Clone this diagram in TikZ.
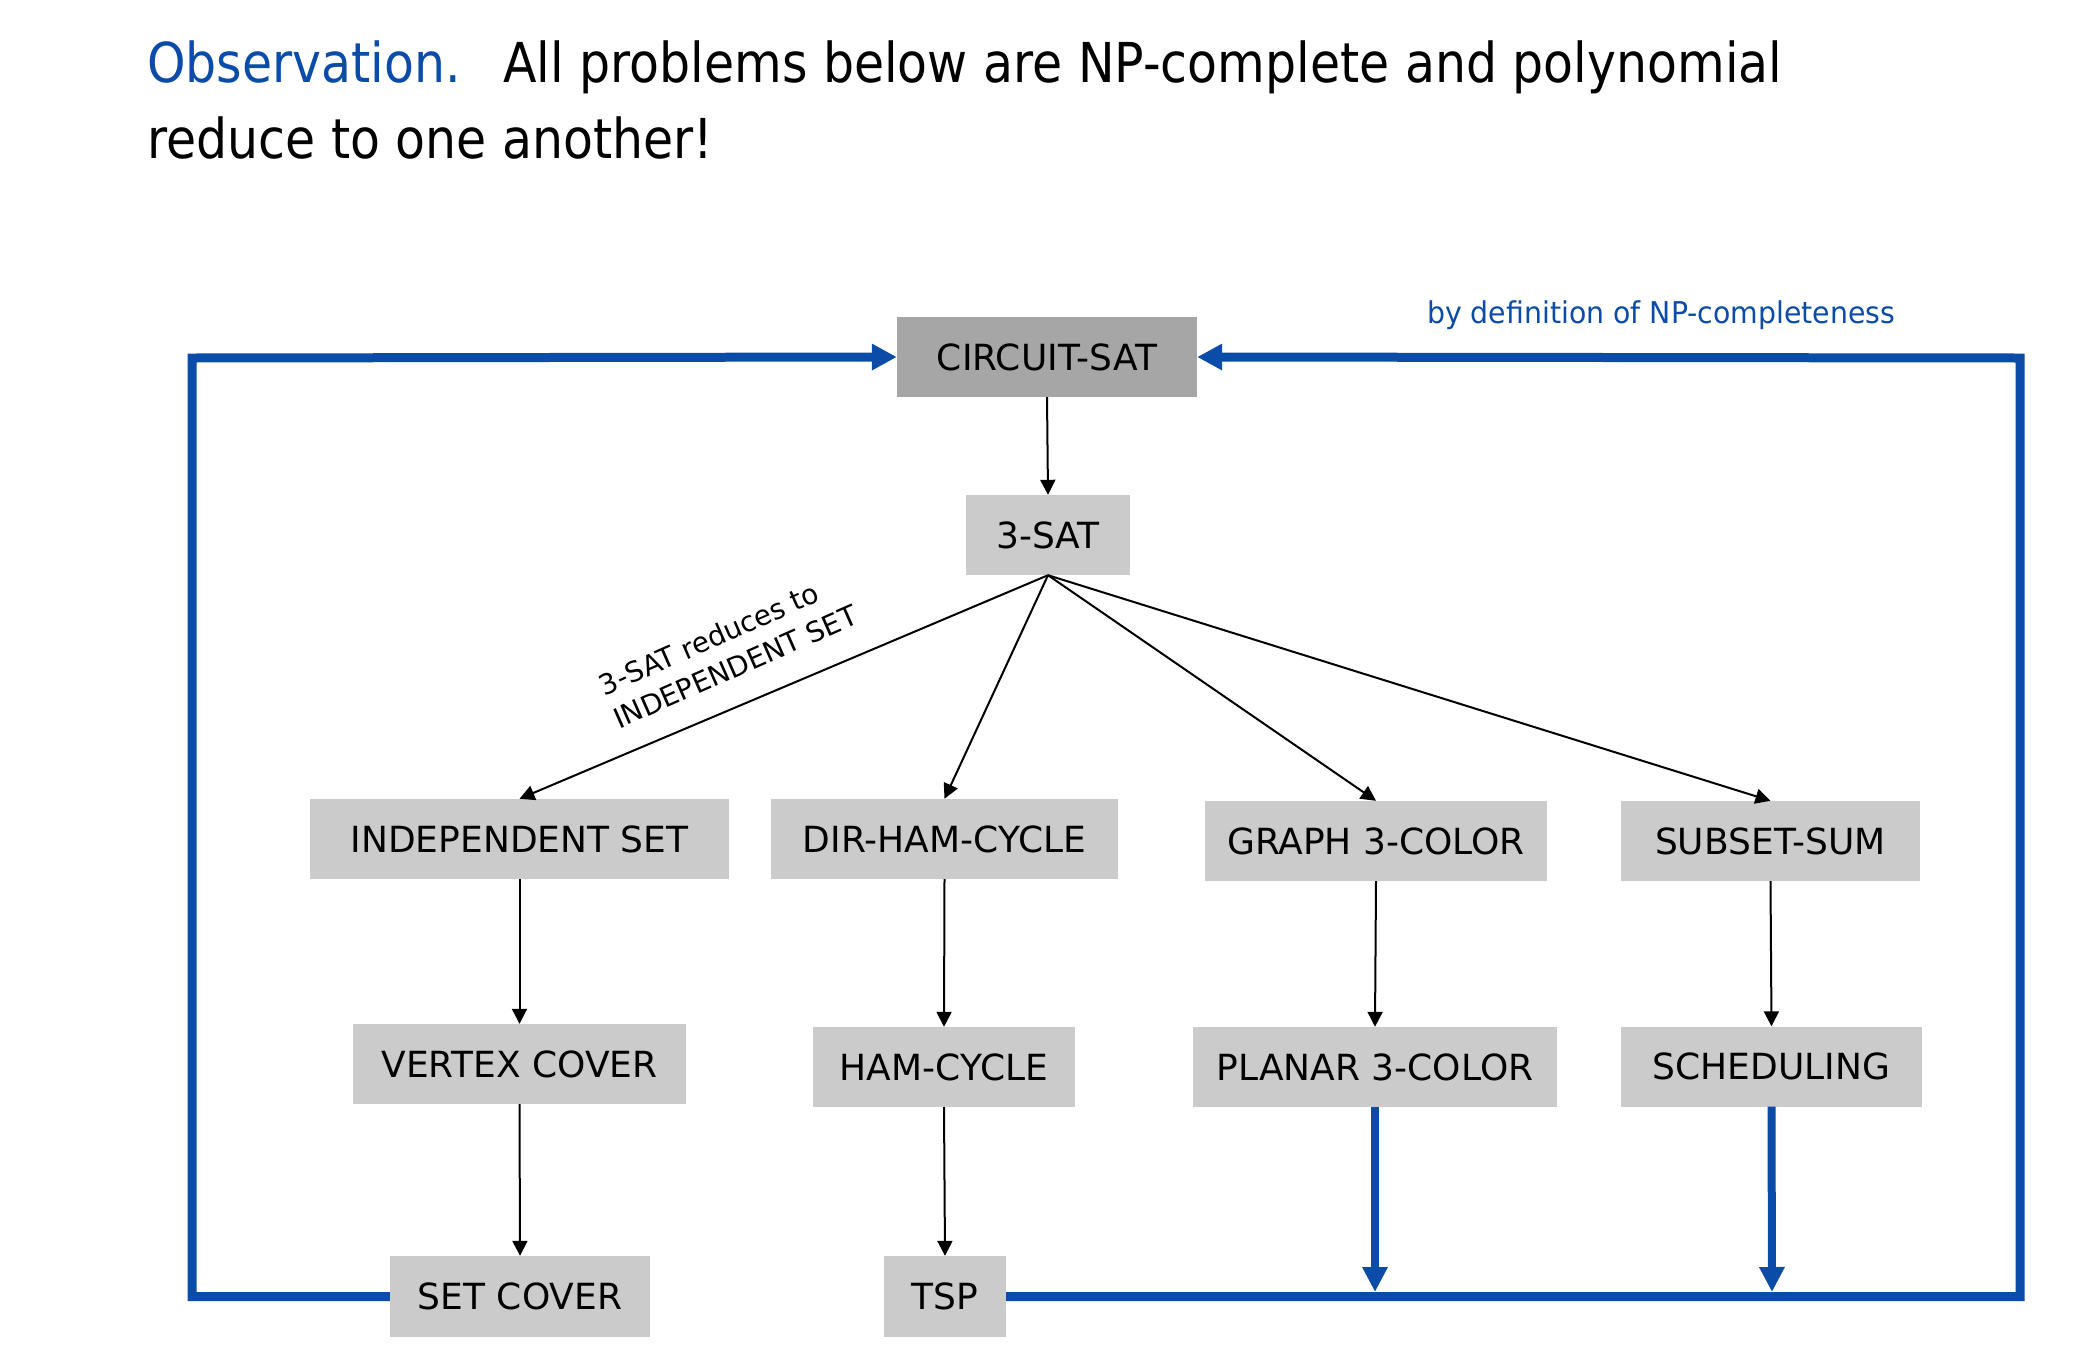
\documentclass[tikz,border=0pt]{standalone}
\usepackage{fontspec}
\setmainfont{DejaVu Sans}
\newfontfamily\condfont[FakeStretch=0.89]{DejaVu Sans}
\newfontfamily\labfont[FakeStretch=0.945]{DejaVu Sans}
\usetikzlibrary{arrows.meta}
\definecolor{frameblue}{RGB}{11,76,168}
\definecolor{boxgray}{RGB}{203,203,203}
\definecolor{darkgray}{RGB}{166,166,166}
\begin{document}
\begin{tikzpicture}[x=1pt,y=-1pt,
  prob/.style={fill=boxgray, inner sep=0pt, minimum height=80pt,
    font=\fontsize{36}{40}\selectfont},
  red/.style={draw=black, line width=2pt, -{Triangle[length=15pt,width=15pt]}},
  back/.style={draw=frameblue, line width=9pt, line join=miter,
    -{Triangle[length=25pt,width=25pt]}},
  feed/.style={draw=frameblue, line width=8pt,
    -{Triangle[length=25pt,width=24pt]}},
  titletext/.style={inner sep=0pt, anchor=base west,
    font=\condfont\fontsize{55}{60}\selectfont}
]
\useasboundingbox (0,0) rectangle (2094,1358);

% title
\node[titletext, text=frameblue] (obs) at (147,82) {Observation.};
\node[titletext] (title1) at (503,82) {All problems below are NP-complete and polynomial};
\node[titletext] (title2) at (147,158) {reduce to one another!};

% label of the feedback arrows
\node[inner sep=0pt, anchor=base west, text=frameblue,
  font=\labfont\fontsize{30}{34}\selectfont] (bydef) at (1427,323) {by definition of NP-completeness};

% problems
\node[prob, fill=darkgray, minimum width=300pt] (cs) at (1047,357) {CIRCUIT-SAT};
\node[prob, minimum width=164pt] (sat) at (1048,535) {3-SAT};
\node[prob, minimum width=419pt] (is) at (519.5,839) {INDEPENDENT SET};
\node[prob, minimum width=347pt] (dhc) at (944.5,839) {DIR-HAM-CYCLE};
\node[prob, minimum width=342pt] (g3c) at (1376,841) {GRAPH 3-COLOR};
\node[prob, minimum width=299pt] (ss) at (1770.5,841) {SUBSET-SUM};
\node[prob, minimum width=333pt] (vc) at (519.5,1064) {VERTEX COVER};
\node[prob, minimum width=262pt] (ham) at (944,1067) {HAM-CYCLE};
\node[prob, minimum width=364pt] (p3c) at (1375,1067) {PLANAR 3-COLOR};
\node[prob, minimum width=301pt] (sch) at (1771.5,1066.5) {SCHEDULING};
\node[prob, minimum width=260pt, minimum height=81pt] (sc) at (520,1296.5) {SET COVER};
\node[prob, minimum width=122pt, minimum height=81pt] (tsp) at (945,1296.5) {TSP};

% reductions
\draw[red] (cs.south) -- (sat.north);
\draw[red] (sat.south) -- (is.north);
\draw[red] (sat.south) -- (dhc.north);
\draw[red] (sat.south) -- (g3c.north);
\draw[red] (sat.south) -- (ss.north);
\draw[red] (is.south) -- (vc.north);
\draw[red] (vc.south) -- (sc.north);
\draw[red] (dhc.south) -- (ham.north);
\draw[red] (ham.south) -- (tsp.north);
\draw[red] (g3c.south) -- (p3c.north);
\draw[red] (ss.south) -- (sch.north);

\node[rotate=23.8, inner sep=0pt, align=left,
  font=\fontsize{28}{36}\selectfont] (lbl) at (728,650)
  {3-SAT reduces to\\INDEPENDENT SET};

% back to CIRCUIT-SAT
\coordinate (lc) at (192,358);
\coordinate (rc) at (2020,358);
\draw[back] (sc.west) -- (lc |- sc.west) -- (lc) -- (cs.west);
\draw[back] (tsp.east) -- (rc |- tsp.east) -- (rc) -- (cs.east);
\coordinate (pt) at (1375,1292);
\coordinate (st) at (1772,1292);
\draw[feed] (p3c.south) -- (pt);
\draw[feed] (sch.south) -- (st);
\end{tikzpicture}
\end{document}
